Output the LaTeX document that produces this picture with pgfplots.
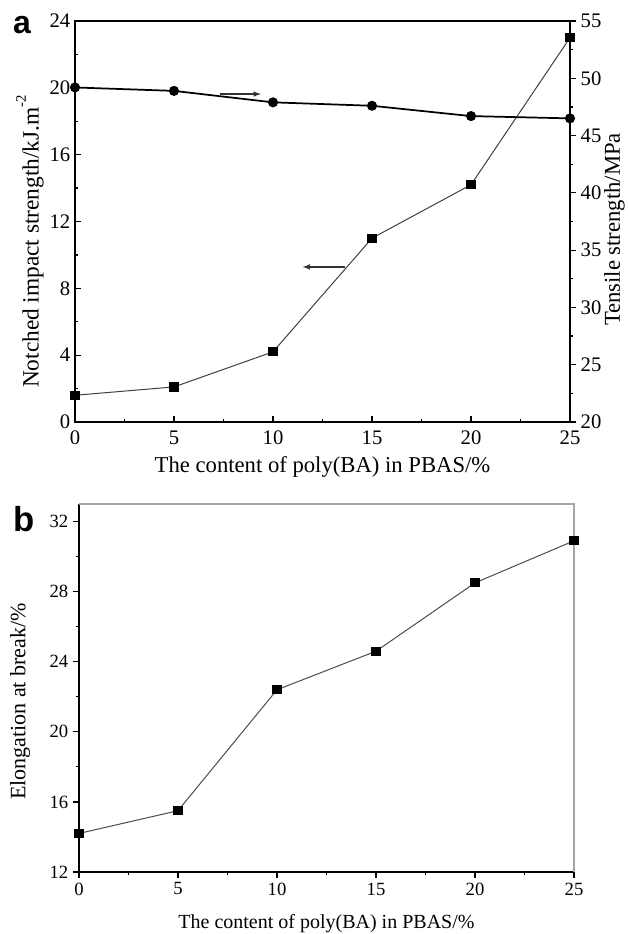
\documentclass[border=0pt]{standalone}
\usepackage{fontspec}
\setmainfont{Liberation Serif}
\newfontfamily\panelfont{Liberation Sans}
\usepackage{pgfplots}
\pgfplotsset{compat=1.18}

% Notched impact strength (left axis), kJ/m^2
\pgfplotstableread{
x y
0  1.6
5  2.1
10 4.2
15 11.0
20 14.2
25 23.0
}\impact
% Tensile strength (right axis), MPa
\pgfplotstableread{
x y
0  49.2
5  48.9
10 47.9
15 47.6
20 46.7
25 46.5
}\tensile
% Elongation at break, %
\pgfplotstableread{
x y
0  14.2
5  15.5
10 22.4
15 24.6
20 28.5
25 30.9
}\elong

\pgfplotsset{
  base/.style={
    scale only axis,
    width=371.25pt,
    xmin=0, xmax=25,
    xtick={0,5,...,25},
    minor x tick num=1,
    major tick length=4.5pt,
    minor tick length=2.6pt,
    every tick/.style={black, line width=0.9pt},
    axis line style={line width=1.2pt},
    /pgf/number format/assume math mode=true,
    clip=false,
  },
}

\begin{document}
\begin{tikzpicture}
\path[use as bounding box] (0,0) rectangle (471pt,-700.5pt);

% ---------- panel a ----------
\begin{axis}[base,
  at={(56.25pt,-316.5pt)}, anchor=south west,
  height=300.75pt,
  ymin=0, ymax=24, ytick={0,4,...,24}, minor y tick num=1,
  xtick pos=bottom, ytick pos=left, tick align=inside,
  ticklabel style={font=\fontsize{15.5}{17}\selectfont},
  xticklabel style={yshift=-3pt},
  xlabel={The content of poly(BA) in PBAS/\%},
  xlabel style={font=\fontsize{17}{19}\selectfont, at={(axis description cs:0.5,-0.112)}, anchor=center},
  ylabel={Notched impact strength/kJ.m\raisebox{1.2ex}{\fontsize{11}{12}\selectfont -2}},
  ylabel style={font=\fontsize{17.5}{19}\selectfont, at={(axis description cs:-0.091,0.45)}, anchor=center},
]
\addplot[black!75, line width=0.75pt, mark=square*, mark size=3.1pt,
  mark options={fill=black, draw=black, solid}] table {\impact};
\draw[black!80, line width=0.9pt, -latex] (axis cs:13.65,9.28) -- (axis cs:11.5,9.28);
\draw[black!80, line width=0.9pt, -latex] (axis cs:7.32,19.63) -- (axis cs:9.39,19.63);
\node[font=\panelfont\bfseries\fontsize{24}{26}\selectfont, anchor=center]
  at (axis description cs:-0.107,0.99) {a};
\end{axis}

\begin{axis}[base,
  at={(56.25pt,-316.5pt)}, anchor=south west,
  height=300.75pt,
  axis x line=none, axis y line*=right,
  ymin=20, ymax=55, ytick={20,25,...,55}, minor y tick num=1,
  tick align=outside,
  ticklabel style={font=\fontsize{15.5}{17}\selectfont},
  ylabel={Tensile strength/MPa},
  ylabel style={font=\fontsize{17}{19}\selectfont, at={(axis description cs:1.09,0.48)}, anchor=center, rotate=0},
]
\addplot[black, line width=1.3pt, mark=*, mark size=3.1pt,
  mark options={fill=black, solid}] table {\tensile};
\end{axis}

% ---------- panel b ----------
\begin{axis}[base,
  at={(59.25pt,-654pt)}, anchor=south west,
  height=276pt,
  ymin=12, ymax=33, ytick={12,16,...,32}, minor y tick num=1,
  axis x line*=bottom, axis y line*=left,
  axis line style={line width=1.2pt, -},
  tick align=outside,
  ticklabel style={font=\fontsize{14}{16}\selectfont},
  xlabel={The content of poly(BA) in PBAS/\%},
  xlabel style={font=\fontsize{15}{17}\selectfont, at={(axis description cs:0.5,-0.139)}, anchor=center},
  ylabel={Elongation at break/\%},
  ylabel style={font=\fontsize{16.5}{18}\selectfont, at={(axis description cs:-0.119,0.463)}, anchor=center},
]
\draw[black!35, line width=0.8pt] (rel axis cs:0,1) -- (rel axis cs:1,1) -- (rel axis cs:1,0);
\addplot[black!70, line width=0.75pt, mark=square*, mark size=3.1pt,
  mark options={fill=black, draw=black, solid}] table {\elong};
\node[font=\panelfont\bfseries\fontsize{26}{28}\selectfont, anchor=center]
  at (axis description cs:-0.111,0.96) {b};
\end{axis}
\end{tikzpicture}
\end{document}
